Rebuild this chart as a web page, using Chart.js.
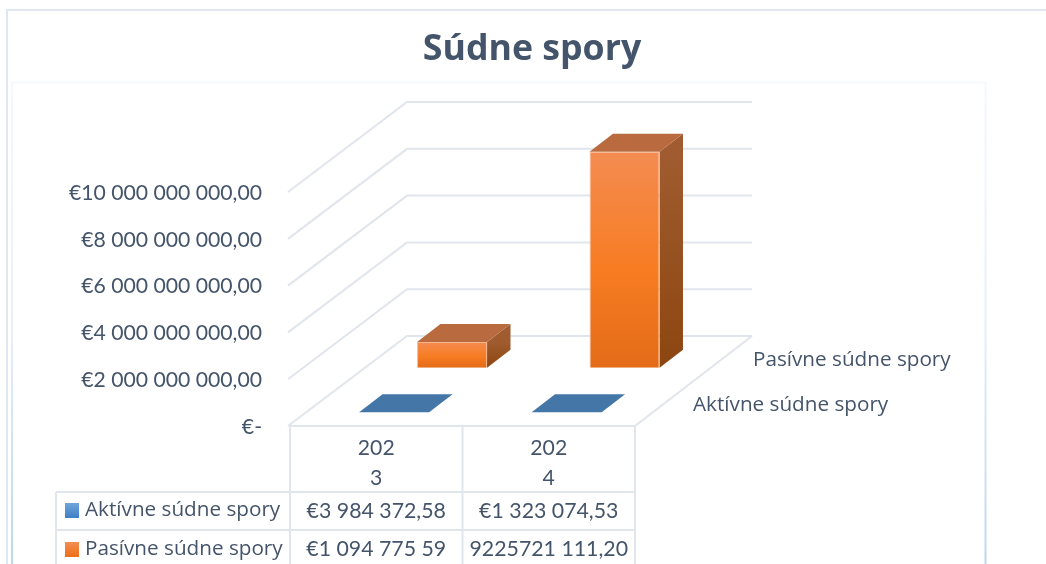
<!DOCTYPE html>
<html>
<head>
<meta charset="utf-8">
<style>html,body{margin:0;padding:0;background:#fff}#wrap{position:relative;width:1046px;height:564px;overflow:hidden}</style>
<script src="https://cdn.jsdelivr.net/npm/chart.js@4"></script>
</head>
<body>
<div id="wrap"><canvas id="c" width="1046" height="564"></canvas></div>
<script>
const chartTitle = "Súdne spory";
const categories = ["2023", "2024"];
const seriesNames = ["Aktívne súdne spory", "Pasívne súdne spory"];
const activeValues = [3984372.58, 1323074.53];
const passiveValues = [1094775590, 9225721111.20];
const activeCells = ["€3 984 372,58", "€1 323 074,53"];
const passiveCells = ["€1 094 775 59", "9225721 111,20"];
const yTickLabels = ["€-", "€2 000 000 000,00", "€4 000 000 000,00", "€6 000 000 000,00", "€8 000 000 000,00", "€10 000 000 000,00"];

const INK = "#44546A", GRID = "#E1E5EC";
const TEXT_FONT = '"Open Sans", sans-serif', NUM_FONT = 'Lato, sans-serif';
const DEPTH = {dx: 117, dy: -90};
const ROW = [{start: 0.153, size: 0.2}, {start: 0.648, size: 0.2}];

function orangeFront(ctx) {
  const y = ctx.chart.scales.y;
  if (!y || ctx.parsed == null) return "#F57C20";
  const top = y.getPixelForValue(ctx.parsed.y), base = y.getPixelForValue(0);
  if (!isFinite(top) || !isFinite(base) || base - top < 1) return "#F57C20";
  const g = ctx.chart.ctx.createLinearGradient(0, top, 0, base);
  g.addColorStop(0, "#F48C52");
  g.addColorStop(0.55, "#F77C22");
  g.addColorStop(1, "#E46C18");
  return g;
}
function poly(c, pts, fill) {
  c.beginPath();
  pts.forEach((p, i) => i ? c.lineTo(p[0], p[1]) : c.moveTo(p[0], p[1]));
  c.closePath();
  c.fillStyle = fill;
  c.fill();
}
function line(c, pts, color, w) {
  c.beginPath();
  pts.forEach((p, i) => i ? c.lineTo(p[0], p[1]) : c.moveTo(p[0], p[1]));
  c.strokeStyle = color;
  c.lineWidth = w;
  c.stroke();
}

const scene3d = {
  id: "scene3d",
  beforeDraw(chart) {
    const c = chart.ctx;
    c.save();
    c.fillStyle = "#fff";
    c.fillRect(0, 0, chart.width, chart.height);
    line(c, [[7, chart.height], [7, 10], [chart.width, 10]], "#E1E7EE", 2);
    const g = c.createLinearGradient(0, 82, 0, chart.height);
    g.addColorStop(0, "#F5F9FE");
    g.addColorStop(0.5, "#E6F0FA");
    g.addColorStop(1, "#BDD7EE");
    line(c, [[12, chart.height], [12, 82.5], [985.5, 82.5], [985.5, chart.height]], g, 2);
    c.restore();
  },
  beforeDatasetsDraw(chart) {
    const c = chart.ctx, y = chart.scales.y, a = chart.chartArea;
    c.save();
    y.ticks.forEach(t => {
      const p = y.getPixelForValue(t.value);
      line(c, [[a.left - 2, p], [a.left + DEPTH.dx, p + DEPTH.dy], [a.right + DEPTH.dx, p + DEPTH.dy]], GRID, 2);
    });
    line(c, [[a.right, a.bottom], [a.right + DEPTH.dx, a.bottom + DEPTH.dy]], GRID, 2);
    c.restore();
  },
  beforeDatasetDraw(chart, args) {
    const c = chart.ctx, r = ROW[args.index];
    c.save();
    c.translate(DEPTH.dx * r.start, DEPTH.dy * r.start);
    const dx = DEPTH.dx * r.size, dy = DEPTH.dy * r.size;
    const blue = args.index === 0;
    chart.getDatasetMeta(args.index).data.forEach(el => {
      const L = el.x - el.width / 2, R = el.x + el.width / 2;
      const side = c.createLinearGradient(0, el.y, 0, el.base);
      side.addColorStop(0, "#A05C30");
      side.addColorStop(1, "#8C4610");
      poly(c, [[R, el.y], [R + dx, el.y + dy], [R + dx, el.base + dy], [R, el.base]], blue ? "#3A6A99" : side);
      poly(c, [[L, el.y], [L + dx, el.y + dy], [R + dx, el.y + dy], [R, el.y]], blue ? "#4476A8" : "#B96B3F");
    });
  },
  afterDatasetDraw(chart) {
    chart.ctx.restore();
  },
  afterDraw(chart) {
    const c = chart.ctx, a = chart.chartArea, x = chart.scales.x;
    c.save();
    const H = chart.height, mid = x.getPixelForValue(0) + (x.getPixelForValue(1) - x.getPixelForValue(0)) / 2;
    const keyLeft = 56, rowA = 492, rowB = 530;
    line(c, [[a.left, a.bottom], [a.right, a.bottom]], GRID, 2);
    line(c, [[keyLeft, rowA], [a.right, rowA]], GRID, 2);
    line(c, [[keyLeft, rowB], [a.right, rowB]], GRID, 2);
    line(c, [[a.left, a.bottom], [a.left, H]], GRID, 2);
    line(c, [[mid, a.bottom], [mid, H]], GRID, 2);
    line(c, [[a.right, a.bottom], [a.right, H]], GRID, 2);
    line(c, [[keyLeft, rowA], [keyLeft, H]], GRID, 2);

    c.fillStyle = INK;
    c.textBaseline = "middle";
    c.textAlign = "left";
    c.font = "20.7px " + TEXT_FONT;
    c.fillText(seriesNames[1], 753, 360);
    c.fillText(seriesNames[0], 693, 405);
    c.fillText(seriesNames[0], 85, 510);
    c.fillText(seriesNames[1], 85, 549);

    const s1 = c.createLinearGradient(0, 503, 0, 518);
    s1.addColorStop(0, "#6FA5DC"); s1.addColorStop(1, "#3F7FC4");
    c.fillStyle = s1; c.fillRect(65, 503, 14, 15);
    const s2 = c.createLinearGradient(0, 542, 0, 557);
    s2.addColorStop(0, "#F58E55"); s2.addColorStop(1, "#EE6E15");
    c.fillStyle = s2; c.fillRect(65, 542, 14, 15);

    c.fillStyle = INK;
    c.textAlign = "center";
    c.font = "21.3px " + NUM_FONT;
    categories.forEach((_, i) => {
      const px = x.getPixelForValue(i);
      c.fillText(activeCells[i], px, 511);
      c.fillText(passiveCells[i], px, 549);
    });
    c.restore();
  }
};

new Chart(document.getElementById("c"), {
  type: "bar",
  data: {
    labels: categories,
    datasets: [
      {label: seriesNames[0], data: activeValues, backgroundColor: "#4476A8", barPercentage: 0.406, categoryPercentage: 1, grouped: false, clip: false},
      {label: seriesNames[1], data: passiveValues, backgroundColor: orangeFront, borderColor: "#F7B68E", borderWidth: 1, barPercentage: 0.406, categoryPercentage: 1, grouped: false, clip: false}
    ]
  },
  plugins: [scene3d],
  options: {
    responsive: false,
    animation: false,
    layout: {padding: {left: 18, right: 0, top: 0, bottom: 0}},
    plugins: {
      legend: {display: false},
      tooltip: {enabled: false},
      title: {
        display: true,
        text: chartTitle,
        color: INK,
        font: {family: TEXT_FONT, size: 35.7, weight: "bold", lineHeight: 1.2},
        padding: {top: 28, bottom: 121.2}
      }
    },
    scales: {
      x: {
        grid: {display: false, drawTicks: false},
        border: {display: false},
        ticks: {
          color: INK, padding: 7, maxRotation: 0, autoSkip: false,
          font: {family: NUM_FONT, size: 21.2, lineHeight: 1.42},
          callback(v, i) { const s = categories[i]; return [s.slice(0, 3), s.slice(3)]; }
        },
        afterFit(s) { s.height = 138; }
      },
      y: {
        min: 0, max: 10000000000,
        grid: {display: false, drawTicks: false},
        border: {display: false},
        ticks: {
          stepSize: 2000000000, color: INK, padding: 28, labelOffset: 1,
          font: {family: NUM_FONT, size: 21.2},
          callback(v, i) { return yTickLabels[i]; }
        },
        afterFit(s) { s.width = 272; }
      },
      rightGap: {
        position: "right", display: true,
        grid: {display: false, drawTicks: false},
        border: {display: false},
        ticks: {display: false},
        afterFit(s) { s.width = 411; }
      }
    }
  }
});
</script>
</body>
</html>
